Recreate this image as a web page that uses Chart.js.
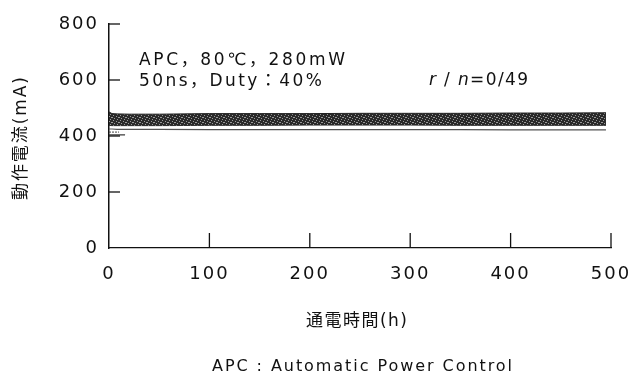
<!DOCTYPE html>
<html>
<head>
<meta charset="utf-8">
<script src="https://cdn.jsdelivr.net/npm/chart.js@4.4.1/dist/chart.umd.min.js"></script>
<style>
html,body{margin:0;padding:0;background:#fff;}
#wrap{width:634px;height:374px;position:relative;}
</style>
</head>
<body>
<div id="wrap"><canvas id="c" width="634" height="374"></canvas></div>
<script>
// ---- data ----
const hours      = [0, 3, 8, 20, 50, 100, 150, 200, 250, 300, 350, 400, 450, 495];
const bandUpper  = [486, 480, 479, 478, 478, 480, 480, 480, 481, 481, 481, 482, 482, 483];
const bandLower  = [438, 437, 437, 437, 437, 438, 438, 439, 439, 439, 438, 438, 438, 438];
const lowLine    = [425, 425, 424, 424, 424, 423, 423, 423, 423, 423, 423, 422, 422, 422];
const shortHours = [0, 10];
const shortLineA = [414, 414];
const shortHoursB = [0, 16];
const shortLineB = [404, 404];
const xTicks = [0, 100, 200, 300, 400, 500];
const yTicks = [0, 200, 400, 600, 800];

const FONT = '"DejaVu Sans", "Noto Sans CJK JP", sans-serif';
const toXY = (xs, ys) => xs.map((x, i) => ({x, y: ys[i]}));

function makePattern() {
  const p = document.createElement('canvas');
  p.width = 7; p.height = 5;
  const g = p.getContext('2d');
  g.fillStyle = '#2a2a2a'; g.fillRect(0, 0, 7, 5);
  g.fillStyle = '#9a9a9a';
  [[1,0],[4,1],[6,2],[2,3],[5,4],[0,2]].forEach(([x, y]) => g.fillRect(x, y, 1, 1));
  return g.createPattern(p, 'repeat');
}

// draw a sequence of [text, italic] parts, left-aligned, spread to a target width
function fitParts(ctx, parts, left, y, width, size) {
  ctx.letterSpacing = '0px';
  let natural = 0, n = 0;
  parts.forEach(([t, it]) => { ctx.font = (it ? 'italic ' : '') + size + 'px ' + FONT; natural += ctx.measureText(t).width; n += Array.from(t).length; });
  const sp = Math.max(0, (width - natural) / Math.max(1, n - 1));
  ctx.letterSpacing = sp + 'px';
  ctx.textAlign = 'left';
  let x = left;
  parts.forEach(([t, it]) => { ctx.font = (it ? 'italic ' : '') + size + 'px ' + FONT; ctx.fillText(t, x, y); x += ctx.measureText(t).width; });
  ctx.letterSpacing = '0px';
}

const spacing = {
  id: 'spacing',
  beforeLayout(chart) { chart.ctx.letterSpacing = '2px'; },
  beforeDraw(chart) { chart.ctx.letterSpacing = '2px'; }
};

const deco = {
  id: 'deco',
  afterDraw(chart) {
    const ctx = chart.ctx, xs = chart.scales.x, ys = chart.scales.y, a = chart.chartArea;
    ctx.save();
    ctx.strokeStyle = '#111';
    ctx.lineWidth = 1.3;
    yTicks.forEach(v => { if (v === 0) return; const y = ys.getPixelForValue(v);
      ctx.beginPath(); ctx.moveTo(a.left, y); ctx.lineTo(a.left + 11, y); ctx.stroke(); });
    xTicks.forEach(v => { if (v === 0) return; const x = xs.getPixelForValue(v);
      ctx.beginPath(); ctx.moveTo(x, a.bottom); ctx.lineTo(x, a.bottom - 15); ctx.stroke(); });
    ctx.fillStyle = '#111';
    ctx.textBaseline = 'middle';
    fitParts(ctx, [['APC，80℃，280mW', false]], 139, 61, 206, 17);
    fitParts(ctx, [['50ns，Duty：40%', false]], 139, 82, 183, 17);
    fitParts(ctx, [['r', true], [' / ', false], ['n', true], ['=0/49', false]], 429, 81, 99, 17);
    fitParts(ctx, [['通電時間(h)', false]], 306, 322, 101, 17);
    fitParts(ctx, [['APC : Automatic Power Control', false]], 212, 367, 300, 16);
    ctx.translate(22, 200);
    ctx.rotate(-Math.PI / 2);
    fitParts(ctx, [['動作電流(mA)', false]], 0, 0, 123, 17);
    ctx.restore();
  }
};

new Chart(document.getElementById('c'), {
  type: 'line',
  data: {
    datasets: [
      {data: toXY(hours, bandUpper), borderColor: '#222', borderWidth: 1, backgroundColor: makePattern(), fill: '+1', pointRadius: 0, tension: 0},
      {data: toXY(hours, bandLower), borderColor: '#333', borderWidth: 1, fill: false, pointRadius: 0, tension: 0},
      {data: toXY(hours, lowLine), borderColor: '#555', borderWidth: 1.2, fill: false, pointRadius: 0, tension: 0},
      {data: toXY(shortHours, shortLineA), borderColor: '#444', borderWidth: 1, borderDash: [2, 1], fill: false, pointRadius: 0},
      {data: toXY(shortHoursB, shortLineB), borderColor: '#333', borderWidth: 1.2, fill: false, pointRadius: 0}
    ]
  },
  options: {
    responsive: false,
    animation: false,
    events: [],
    layout: {padding: {left: 0, right: 23, top: 24, bottom: 0}},
    plugins: {legend: {display: false}, tooltip: {enabled: false}},
    scales: {
      x: {
        type: 'linear', min: 0, max: 500,
        afterFit: s => { s.height = 126; s.paddingLeft = 0; s.paddingRight = 0; },
        afterBuildTicks: s => { s.ticks = xTicks.map(v => ({value: v})); },
        grid: {display: false, drawTicks: false},
        border: {display: true, color: '#111', width: 1.3},
        ticks: {padding: 16, color: '#111', font: {family: FONT, size: 18}, maxRotation: 0}
      },
      y: {
        type: 'linear', min: 0, max: 800,
        afterFit: s => { s.width = 109; s.paddingTop = 0; s.paddingBottom = 0; },
        afterBuildTicks: s => { s.ticks = yTicks.map(v => ({value: v})); },
        grid: {display: false, drawTicks: false},
        border: {display: true, color: '#111', width: 1.5},
        ticks: {padding: 10, color: '#111', font: {family: FONT, size: 18}}
      }
    }
  },
  plugins: [spacing, deco]
});
</script>
</body>
</html>
